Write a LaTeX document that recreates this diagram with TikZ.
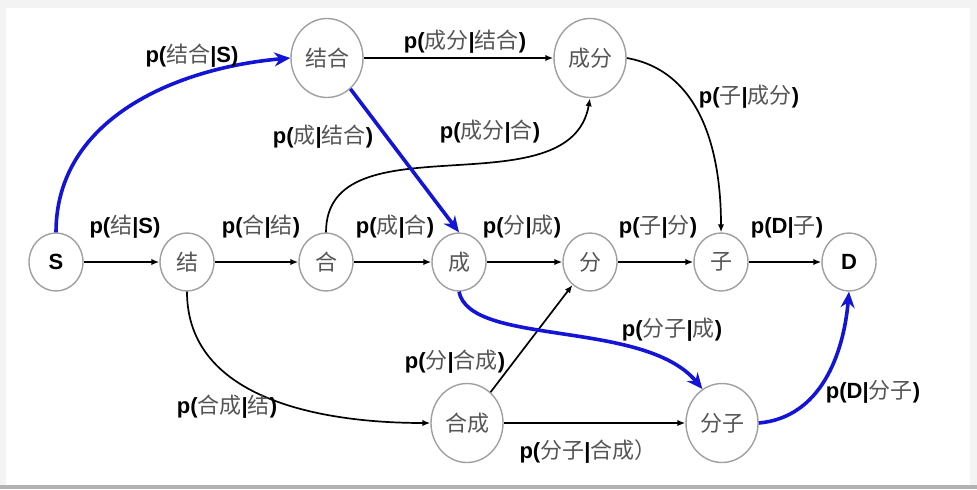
\documentclass[tikz,border=0pt]{standalone}
\usepackage{fontspec}
\setmainfont{Liberation Sans}
\newfontfamily\cjk{Noto Sans CJK SC}
\usetikzlibrary{shapes.geometric,arrows.meta}
\definecolor{hzgray}{HTML}{555555}
\definecolor{ringgray}{HTML}{A0A0A0}
\definecolor{pathblue}{HTML}{1414D6}
\definecolor{panelbg}{HTML}{F3F3F3}
\newcommand{\hz}[1]{{\normalfont\cjk\color{hzgray}#1}}

\begin{document}
\begin{tikzpicture}[x=0.5pt,y=0.5pt,
  state/.style={ellipse,draw=ringgray,line width=0.7pt,fill=white,inner sep=0pt,
    minimum width=27pt,minimum height=29pt,font=\fontsize{11}{13}\selectfont\bfseries},
  word/.style={state,minimum width=36pt,minimum height=39.5pt},
  lbl/.style={inner sep=0pt,font=\fontsize{11}{13}\selectfont\bfseries},
  arr/.style={-{Latex[length=4pt,width=3.2pt]},line width=0.85pt},
  best/.style={-{Stealth[length=8pt,width=7pt]},line width=1.8pt,draw=pathblue}]
% screenshot frame
\fill[panelbg] (0,0) rectangle (977,489);
\fill[white] (6,4) rectangle (970,481);
\fill[gray!60] (0,0) rectangle (977,4);
\useasboundingbox (0,0) rectangle (977,489);
% states
\node[state] (s) at (56,227) {S};
\node[state] (jie) at (187,227) {\hz{结}};
\node[state] (he) at (326,227) {\hz{合}};
\node[state] (cheng) at (459,227) {\hz{成}};
\node[state] (fen) at (590,227) {\hz{分}};
\node[state] (zi) at (721,227) {\hz{子}};
\node[state] (d) at (849,227) {D};
\node[word] (jiehe) at (327,431) {\hz{结合}};
\node[word] (chengfen) at (590,431) {\hz{成分}};
\node[word] (hecheng) at (467,66) {\hz{合成}};
\node[word] (fenzi) at (722,66) {\hz{分子}};
% single characters
\draw[arr] (s) -- (jie);
\draw[arr] (jie) -- (he);
\draw[arr] (he) -- (cheng);
\draw[arr] (cheng) -- (fen);
\draw[arr] (fen) -- (zi);
\draw[arr] (zi) -- (d);
% words
\draw[arr] (jiehe) -- (chengfen);
\draw[arr] (he.north) to[out=90,in=-100] (chengfen.south);
\draw[arr] (chengfen.east) to[out=-10,in=90] (zi.north);
\draw[arr] (jie.south) to[out=-90,in=180] (hecheng.west);
\draw[arr] (hecheng) -- (fen);
\draw[arr] (hecheng) -- (fenzi);
% best path
\draw[best] (s.north) to[out=90,in=185] (jiehe.west);
\draw[best] (jiehe) -- (cheng.north);
\draw[best] (cheng.south) .. controls +(11,-55) and +(-58,70) .. (fenzi.120);
\draw[best] (fenzi.east) to[out=5,in=-95] (d.south);
% probabilities
\node[lbl] (pjiehes) at (192,433) {p(\hz{结合}|S)};
\node[lbl] (pchengfenjiehe) at (465,447) {p(\hz{成分}|\hz{结合})};
\node[lbl] (pchengjiehe) at (323,352) {p(\hz{成}|\hz{结合})};
\node[lbl] (pchengfenhe) at (490,357) {p(\hz{成分}|\hz{合})};
\node[lbl] (pzichengfen) at (749,392) {p(\hz{子}|\hz{成分})};
\node[lbl] (pjies) at (125,262) {p(\hz{结}|S)};
\node[lbl] (phejie) at (261,262) {p(\hz{合}|\hz{结})};
\node[lbl] (pchenghe) at (395,262) {p(\hz{成}|\hz{合})};
\node[lbl] (pfencheng) at (522,262) {p(\hz{分}|\hz{成})};
\node[lbl] (pzifen) at (658,262) {p(\hz{子}|\hz{分})};
\node[lbl] (pdzi) at (787,262) {p(D|\hz{子})};
\node[lbl] (pfenzicheng) at (672,159) {p(\hz{分子}|\hz{成})};
\node[lbl] (pfenhecheng) at (455,127) {p(\hz{分}|\hz{合成})};
\node[lbl] (phechengjie) at (227,82) {p(\hz{合成}|\hz{结})};
\node[lbl] (pdfenzi) at (873,97) {p(D|\hz{分子})};
\node[lbl] (pfenzihecheng) at (588,37) {p(\hz{分子}|\hz{合成）}};
\end{tikzpicture}
\end{document}
